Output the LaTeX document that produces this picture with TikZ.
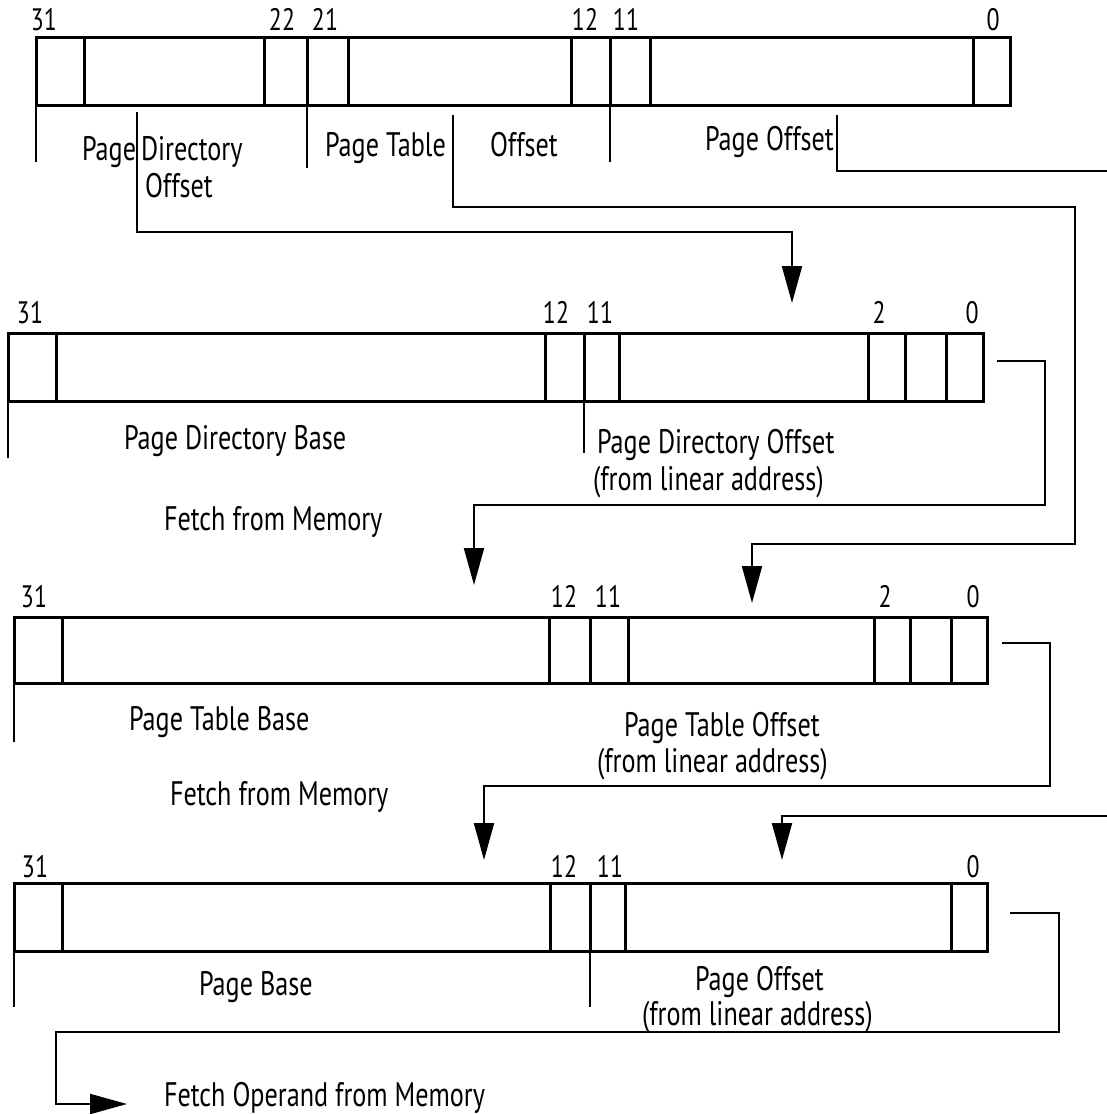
\documentclass[tikz,border=0pt]{standalone}
\usepackage{fontspec}
\setmainfont{PT Sans}[FakeStretch=0.77]
\usetikzlibrary{arrows.meta,positioning}

\begin{document}
\begin{tikzpicture}[
    x=1pt, y=-1pt,
    every node/.style={inner sep=0pt, outer sep=0pt},
    reg/.style={rectangle, draw=black, line width=3pt, anchor=north west, minimum height=68pt},
    field/.style={line width=3pt},
    lbl/.style={font=\fontsize{34pt}{38pt}\selectfont, anchor=base west},
    bit/.style={font=\fontsize{31pt}{34pt}\selectfont, anchor=base},
    link/.style={line width=2pt},
    arrow/.style={link, -{Triangle[length=37pt,width=20pt]}}
]
    \useasboundingbox (0,0) rectangle (1107,1114);

    % Registers
    \node[reg, minimum width=974pt] (lin) at (36,37) {};
    \node[reg, minimum width=975pt] (pdb) at (8,333) {};
    \node[reg, minimum width=973pt, minimum height=66pt] (ptb) at (14,617) {};
    \node[reg, minimum width=973pt] (pgb) at (14,883) {};

    % Fields
    \foreach \x in {84,264,307,348,571,610,650,973}
        \draw[field] (\x,0 |- lin.north) -- (\x,0 |- lin.south);
    \foreach \x in {56,545,584,619,868,905,946}
        \draw[field] (\x,0 |- pdb.north) -- (\x,0 |- pdb.south);
    \foreach \x in {62,549,590,628,874,910,951}
        \draw[field] (\x,0 |- ptb.north) -- (\x,0 |- ptb.south);
    \foreach \x in {62,550,590,625,951}
        \draw[field] (\x,0 |- pgb.north) -- (\x,0 |- pgb.south);

    % Bit numbers
    \foreach \n/\x in {31/44,22/282,21/325,12/585,11/626,0/993}
        \node[bit] (lin\n) at (\x,30) {\n};
    \foreach \n/\x in {31/30,12/556,11/600,2/879,0/972}
        \node[bit] (pdb\n) at (\x,323) {\n};
    \foreach \n/\x in {31/34,12/564,11/608,2/885,0/973}
        \node[bit] (ptb\n) at (\x,607) {\n};
    \foreach \n/\x in {31/35,12/564,11/610,0/973}
        \node[bit] (pgb\n) at (\x,877) {\n};

    % Field brackets
    \draw[link] (lin.south west) -- ++(0,57);
    \draw[link] (307,0 |- lin.south) -- (307,168);
    \draw[link] (610,0 |- lin.south) -- (610,162);
    \draw[link] (pdb.south west) -- ++(0,57);
    \draw[link] (584,0 |- pdb.south) -- (584,453);
    \draw[link] (ptb.south west) -- ++(0,59);
    \draw[link] (pgb.south west) -- ++(0,56);
    \draw[link] (590,0 |- pgb.south) -- (590,1007);

    % Linear address labels
    \node[lbl] (pdlbl) at (82,160) {Page};
    \node[lbl] (dirlbl) at (141,160) {Directory};
    \node[lbl] (offlbl) at (145,197) {Offset};
    \node[lbl] (ptlbl) at (325,156) {Page Table};
    \node[lbl] (ptofflbl) at (490,156) {Offset};
    \node[lbl] (polbl) at (705,150) {Page Offset};

    % Register labels
    \node[lbl] (pdblbl) at (124,449) {Page Directory Base};
    \node[lbl] (pdolbl) at (597,453) {Page Directory Offset};
    \node[lbl] (pdofrom) at (593,490) {(from linear address)};
    \node[lbl] (fetch1) at (164,530) {Fetch from Memory};
    \node[lbl] (ptblbl) at (129,730) {Page Table Base};
    \node[lbl] (ptolbl) at (624,736) {Page Table Offset};
    \node[lbl] (ptofrom) at (597,772) {(from linear address)};
    \node[lbl] (fetch2) at (170,805) {Fetch from Memory};
    \node[lbl] (pgblbl) at (199,995) {Page Base};
    \node[lbl] (pgolbl) at (695,990) {Page Offset};
    \node[lbl] (pgofrom) at (642,1025) {(from linear address)};
    \node[lbl] (fetch3) at (164,1106) {Fetch Operand from Memory};

    % Connectors
    \coordinate (pdoS) at (137,112);
    \coordinate (pdoB) at (792,232);
    \coordinate (pdoT) at (792,303);
    \draw[arrow] (pdoS) |- (pdoB) -- (pdoT);

    \coordinate (ptoS) at (453,115);
    \coordinate (ptoB) at (1075,207);
    \coordinate (ptoC) at (752,544);
    \coordinate (ptoT) at (752,603);
    \draw[arrow] (ptoS) |- (ptoB) |- (ptoC) -- (ptoT);

    \coordinate (poS) at (837,115);
    \coordinate (poE) at (1107,171);
    \draw[link] (poS) |- (poE);
    \coordinate (poF) at (1107,816);
    \coordinate (poT) at (782,860);
    \draw[arrow] (poF) -| (poT);

    \coordinate (f1S) at (997,361);
    \coordinate (f1B) at (1045,505);
    \coordinate (f1T) at (474,585);
    \draw[arrow] (f1S) -| (f1B) -| (f1T);

    \coordinate (f2S) at (1002,643);
    \coordinate (f2B) at (1050,786);
    \coordinate (f2T) at (484,860);
    \draw[arrow] (f2S) -| (f2B) -| (f2T);

    \coordinate (f3S) at (1010,913);
    \coordinate (f3B) at (1059,1032);
    \coordinate (f3C) at (56,1104);
    \coordinate (f3T) at (127,1104);
    \draw[arrow] (f3S) -| (f3B) -| (f3C) -- (f3T);

\end{tikzpicture}
\end{document}
